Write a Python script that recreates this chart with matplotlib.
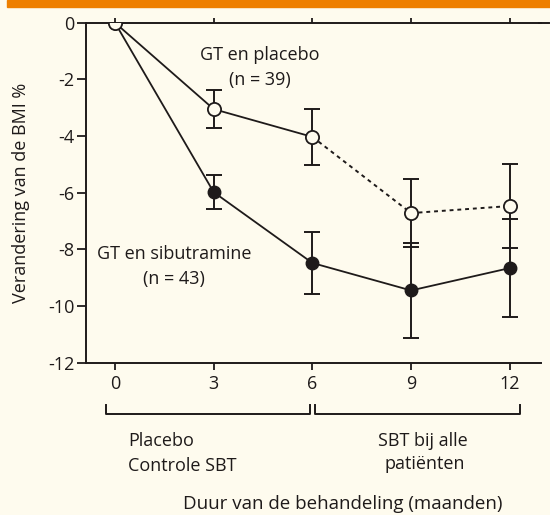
import matplotlib.pyplot as plt
from matplotlib.patches import Rectangle

plt.rcParams['font.family'] = ['Open Sans', 'DejaVu Sans']

# data
months = [0, 3, 6, 9, 12]
placebo = [0, -3.05, -4.03, -6.72, -6.47]
placebo_err = [0, 0.67, 1.0, 1.2, 1.48]
sibutramine = [0, -5.98, -8.48, -9.45, -8.66]
sibutramine_err = [0, 0.59, 1.1, 1.69, 1.72]
yticks = [0, -2, -4, -6, -8, -10, -12]

bg = "#fefbee"
ink = "#1e1a1a"
fs = 13

fig = plt.figure(figsize=(5.5, 5.15), dpi=100, facecolor=bg)
fig.patches.append(Rectangle((7 / 550, 1 - 7 / 515), 1, 7 / 515, transform=fig.transFigure,
                             color="#ee7f00", zorder=0))
ax = fig.add_axes([86 / 550, 1 - 362.7 / 515, (540.7 - 86) / 550, (362.7 - 22.7) / 515])
ax.set_facecolor(bg)

# error bars (none at month 0)
ax.errorbar(months[1:], placebo[1:], yerr=placebo_err[1:], fmt='none', ecolor=ink,
            elinewidth=1.4, capsize=6, capthick=1.4, zorder=2)
ax.errorbar(months[1:], sibutramine[1:], yerr=sibutramine_err[1:], fmt='none', ecolor=ink,
            elinewidth=1.4, capsize=6, capthick=1.4, zorder=2)

# lines
ax.plot(months[:3], placebo[:3], color=ink, lw=1.3, zorder=3)
ax.plot(months[2:], placebo[2:], color=ink, lw=1.4, ls=(0, (2, 2)), zorder=3)
ax.plot(months, sibutramine, color=ink, lw=1.3, zorder=3)

# markers
ax.plot(months, sibutramine, 'o', color=ink, ms=9, zorder=4)
ax.plot(months, placebo, 'o', mfc=bg, mec=ink, mew=1.3, ms=9.5, zorder=5)

ax.set_xlim(-0.88, 12.94)
ax.set_ylim(-12, 0)
ax.set_xticks(months)
ax.set_yticks(yticks)
ax.set_yticklabels([str(v) for v in yticks])
ax.tick_params(axis='y', direction='out', length=6.5, width=1.3, pad=2, labelsize=fs, colors=ink)
ax.tick_params(axis='x', direction='out', length=5, width=1.3, pad=4, labelsize=fs, colors=ink,
               top=True)
ax.spines['right'].set_visible(False)
for s in ['left', 'bottom', 'top']:
    ax.spines[s].set_linewidth(1.4)
    ax.spines[s].set_color(ink)
# top line runs a bit further than the plot box
ax.plot([12.9, 13.18], [0, 0], color=ink, lw=1.4, clip_on=False)

ax.set_ylabel("Verandering van de BMI %", fontsize=fs, color=ink)
ax.yaxis.set_label_coords(-0.123, 0.5)

# group labels
ax.text(4.41, -1.32, "GT en placebo", ha='center', va='baseline', fontsize=fs, color=ink)
ax.text(4.41, -2.2, "(n = 39)", ha='center', va='baseline', fontsize=fs, color=ink)
ax.text(1.79, -8.33, "GT en sibutramine", ha='center', va='baseline', fontsize=fs, color=ink)
ax.text(1.79, -9.21, "(n = 43)", ha='center', va='baseline', fontsize=fs, color=ink)

# brackets under the axis
yb, ye = -13.80, -13.51
for x0, x1 in [(-0.27, 5.94), (6.09, 12.30)]:
    ax.plot([x0, x0, x1, x1], [ye, yb, yb, ye], color=ink, lw=1.4, clip_on=False)

ax.text(0.39, -14.95, "Placebo", ha='left', va='baseline', fontsize=fs, color=ink)
ax.text(0.39, -15.81, "Controle SBT", ha='left', va='baseline', fontsize=fs, color=ink)
ax.text(9.37, -14.95, "SBT bij alle", ha='center', va='baseline', fontsize=fs, color=ink)
ax.text(9.42, -15.75, "patiënten", ha='center', va='baseline', fontsize=fs, color=ink)
ax.text(6.93, -17.16, "Duur van de behandeling (maanden)", ha='center', va='baseline',
        fontsize=13.5, color=ink)

# top ticks are shorter
for t in ax.xaxis.get_major_ticks():
    t.tick2line.set_markersize(3.5)

fig.savefig("out.png", dpi=100, facecolor=bg)
